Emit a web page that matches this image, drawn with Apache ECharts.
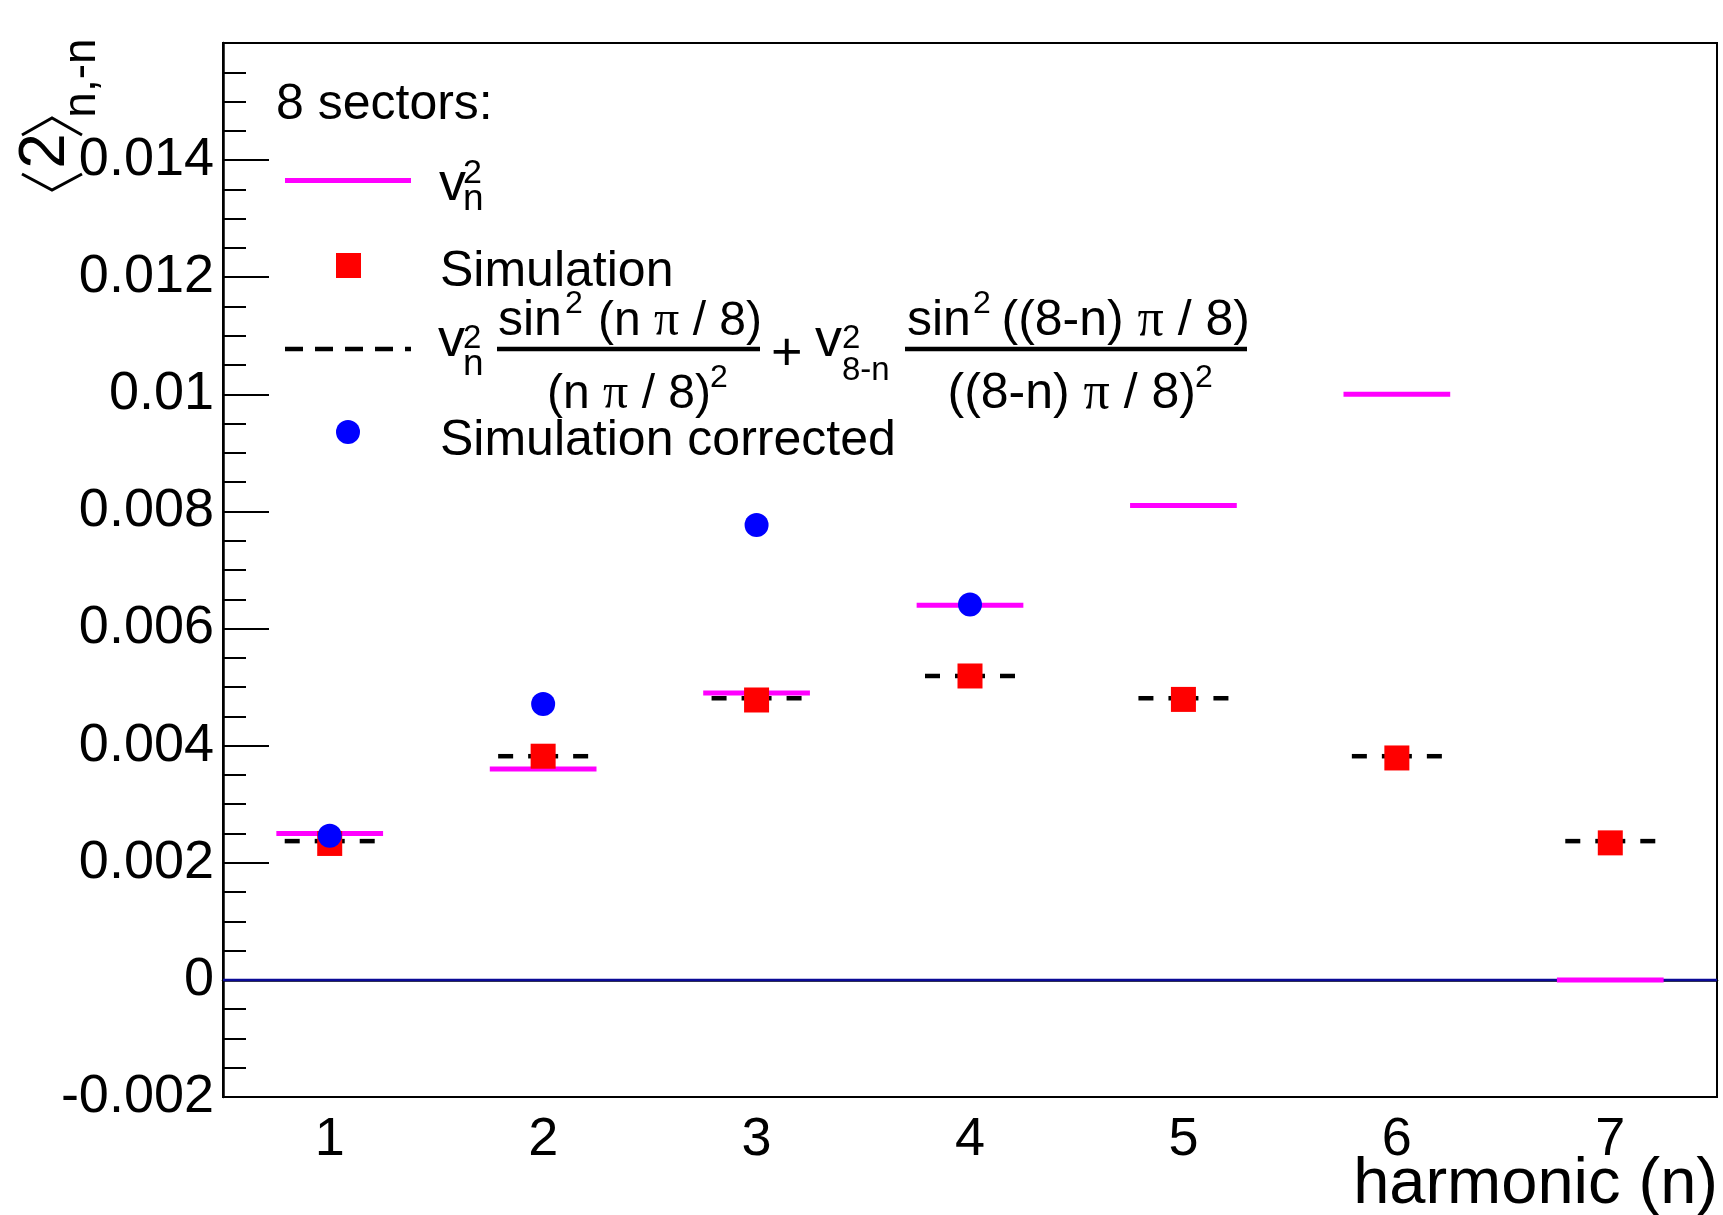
<!DOCTYPE html>
<html>
<head>
<meta charset="utf-8">
<script src="https://cdn.jsdelivr.net/npm/echarts@6/dist/echarts.min.js"></script>
<style>
  html, body { margin: 0; padding: 0; background: #fff; }
  #chart { width: 1723px; height: 1215px; }
</style>
</head>
<body>
<div id="chart"></div>
<script>
// harmonics on the x axis
const harmonics = ['1', '2', '3', '4', '5', '6', '7']
// v_n^2 input
const vn2 = [0.0025, 0.0036, 0.0049, 0.0064, 0.0081, 0.0100, 0]
// expected (dashed)
const expected = [0.00237, 0.00382, 0.00481, 0.00519, 0.00481, 0.00382, 0.00237]
// simulation (red squares)
const simulation = [0.00233, 0.00382, 0.00478, 0.00519, 0.00479, 0.00379, 0.00234]
// simulation corrected (blue circles), only n = 1..4
const corrected = [0.00246, 0.00471, 0.00777, 0.00641]
const zeroLine = [0]

const FONT = '"Liberation Sans", Arial, Helvetica, sans-serif'
const SERIF = '"Liberation Serif", "Times New Roman", serif'

// text placed by its baseline
const txt = (text, x, baseline, size, align) => ({
  type: 'text',
  x: x,
  y: baseline - 0.22 * size,
  silent: true,
  style: {
    text: text,
    fontSize: size,
    fontFamily: FONT,
    fill: '#000',
    textAlign: align || 'left',
    align: align || 'left',
    textVerticalAlign: 'middle',
    verticalAlign: 'middle',
    rich: {
      p: { fontFamily: SERIF, fontSize: size * 1.04, fill: '#000' }
    }
  }
})

const hline = (x1, x2, y, color, width, dash) => ({
  type: 'line',
  silent: true,
  shape: { x1: x1, y1: y, x2: x2, y2: y },
  style: { stroke: color, lineWidth: width, lineDash: dash || null }
})

const graphics = [
  // y axis title  <2>_{n,-n}
  { type: 'polyline', silent: true, shape: { points: [[22, 174], [52, 190], [82, 174]] }, style: { stroke: '#000', lineWidth: 3, fill: null } },
  { type: 'polyline', silent: true, shape: { points: [[22, 135], [52, 118], [82, 135]] }, style: { stroke: '#000', lineWidth: 3, fill: null } },
  { type: 'text', x: 46, y: 151, rotation: Math.PI / 2, silent: true,
    style: { text: '2', fontSize: 64, fontFamily: FONT, fill: '#000', textAlign: 'center', align: 'center', textVerticalAlign: 'middle', verticalAlign: 'middle' } },
  { type: 'text', x: 82, y: 78, rotation: Math.PI / 2, silent: true,
    style: { text: 'n,-n', fontSize: 46, fontFamily: FONT, fill: '#000', textAlign: 'center', align: 'center', textVerticalAlign: 'middle', verticalAlign: 'middle' } },

  // x axis title
  txt('harmonic (n)', 1718, 1199, 65, 'right'),

  // legend
  txt('8 sectors:', 276, 116, 50),

  hline(285, 411, 180.5, '#ff00ff', 5),
  txt('v', 439, 197, 54),
  txt('2', 463, 181, 34),
  txt('n', 463, 208, 37),

  { type: 'rect', silent: true, shape: { x: 336, y: 253, width: 25, height: 25 }, style: { fill: '#ff0000' } },
  txt('Simulation', 440, 283, 50),

  hline(285, 411, 349, '#000', 4.5, [18, 12]),
  txt('v', 438, 353, 54),
  txt('2', 463, 346, 33),
  txt('n', 463, 373, 37),
  hline(497, 760, 349, '#000', 4.5),
  txt('sin', 498, 332, 50),
  txt('2', 565, 311, 32),
  txt('(n {p|π} / 8)', 762, 332, 48, 'right'),
  txt('(n {p|π} / 8)', 711, 405, 48, 'right'),
  txt('2', 710, 385, 32),
  txt('+', 771, 367, 54),
  txt('v', 815, 353, 54),
  txt('2', 842, 346, 33),
  txt('8-n', 842, 378, 33),
  hline(905, 1247, 349, '#000', 4.5),
  txt('sin', 907, 332, 50),
  txt('2', 973, 311, 32),
  txt('((8-n) {p|π} / 8)', 1250, 332, 50, 'right'),
  txt('((8-n) {p|π} / 8)', 1196, 405, 50, 'right'),
  txt('2', 1195, 385, 32),

  { type: 'circle', silent: true, shape: { cx: 348, cy: 432, r: 12 }, style: { fill: '#0000ff' } },
  txt('Simulation corrected', 440, 452, 50)
]

const chart = echarts.init(document.getElementById('chart'))

// horizontal segment centered on a point, half width as fraction of the band
const segment = (halfFrac, color, width) => (params, api) => {
  const c = api.coord([api.value(0), api.value(1)])
  const half = api.size([1, 0])[0] * halfFrac
  return {
    type: 'line',
    shape: { x1: c[0] - half, y1: c[1], x2: c[0] + half, y2: c[1] },
    style: { stroke: color, lineWidth: width }
  }
}

// dashed segment, drawn from the center outwards in two halves
const dashedSegment = (params, api) => {
  const c = api.coord([api.value(0), api.value(1)])
  const half = api.size([1, 0])[0] * 0.211
  const st = { stroke: '#000', lineWidth: 4.5, lineDash: [15, 15] }
  return {
    type: 'group',
    children: [
      { type: 'line', shape: { x1: c[0], y1: c[1], x2: c[0] - half, y2: c[1] }, style: st },
      { type: 'line', shape: { x1: c[0], y1: c[1], x2: c[0] + half, y2: c[1] }, style: st }
    ]
  }
}

const option = {
  backgroundColor: '#fff',
  animation: false,
  grid: {
    left: 223,
    right: 6,
    top: 43,
    bottom: 118,
    show: true,
    borderColor: '#000',
    borderWidth: 2
  },
  xAxis: {
    type: 'category',
    data: harmonics,
    boundaryGap: true,
    axisLine: { lineStyle: { color: '#000', width: 2.5 } },
    axisTick: { inside: true, alignWithLabel: true, interval: 0, length: 32, lineStyle: { color: '#000', width: 1.5 } },
    axisLabel: { interval: 0, margin: 16, fontSize: 54, fontFamily: FONT, color: '#000' },
    splitLine: { show: false }
  },
  yAxis: {
    type: 'value',
    min: -0.002,
    max: 0.016,
    interval: 0.002,
    axisLine: { show: true, lineStyle: { color: '#000', width: 2.5 } },
    axisTick: { show: true, inside: true, length: 46, lineStyle: { color: '#000', width: 2 } },
    minorTick: { show: true, splitNumber: 4, length: 23, lineStyle: { color: '#000', width: 2 } },
    axisLabel: { margin: 9, fontSize: 54, fontFamily: FONT, color: '#000', showMaxLabel: false },
    splitLine: { show: false }
  },
  graphic: graphics,
  series: [
    {
      name: 'zero',
      type: 'custom',
      silent: true,
      data: zeroLine.map((v) => [0, v]),
      renderItem: (params, api) => {
        const c = api.coord([0, api.value(1)])
        const cs = params.coordSys
        return {
          type: 'line',
          shape: { x1: cs.x, y1: c[1], x2: cs.x + cs.width, y2: c[1] },
          style: { stroke: '#0a0a96', lineWidth: 2.5 }
        }
      }
    },
    {
      name: 'v_n^2',
      type: 'custom',
      silent: true,
      data: vn2.map((v, i) => [i, v]),
      renderItem: segment(0.25, '#ff00ff', 5)
    },
    {
      name: 'expected',
      type: 'custom',
      silent: true,
      data: expected.map((v, i) => [i, v]),
      renderItem: dashedSegment
    },
    {
      name: 'Simulation',
      type: 'scatter',
      symbol: 'rect',
      symbolSize: 25,
      itemStyle: { color: '#ff0000', opacity: 1 },
      data: simulation.map((v, i) => [i, v])
    },
    {
      name: 'Simulation corrected',
      type: 'scatter',
      symbol: 'circle',
      symbolSize: 24,
      itemStyle: { color: '#0000ff', opacity: 1 },
      data: corrected.map((v, i) => [i, v])
    }
  ]
}

chart.setOption(option)
</script>
</body>
</html>
